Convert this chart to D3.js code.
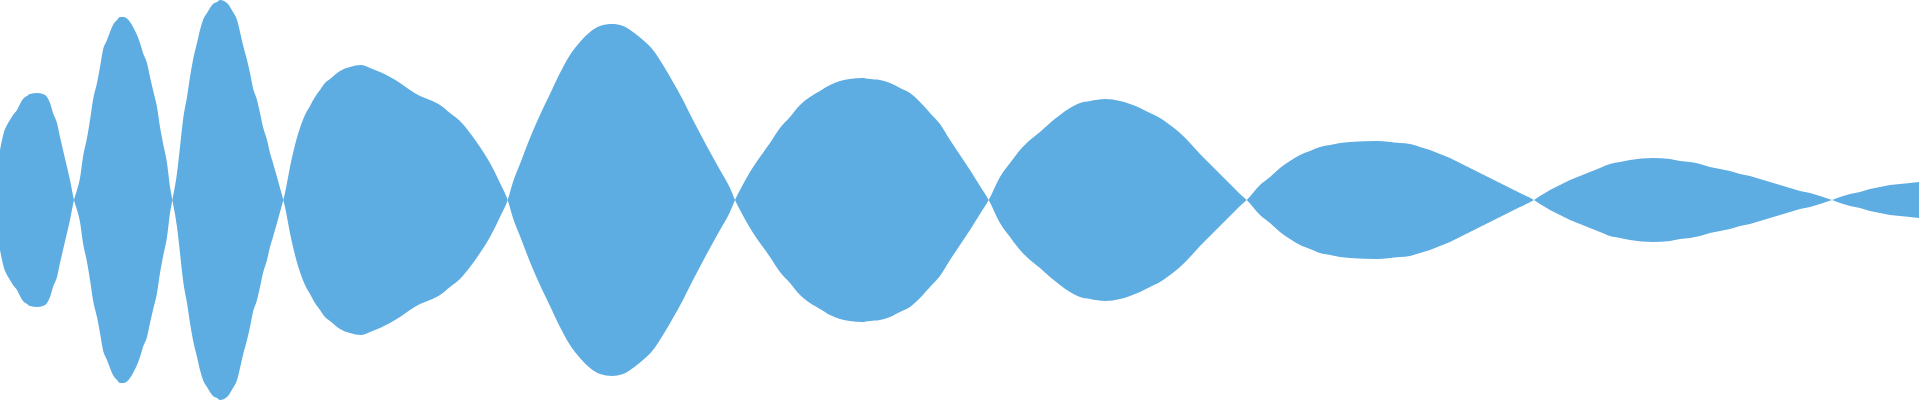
<!DOCTYPE html>
<html>
<head>
<meta charset="utf-8">
<script src="https://cdn.jsdelivr.net/npm/d3@7"></script>
<style>
  html, body { margin: 0; padding: 0; background: #ffffff; overflow: hidden; }
  svg { display: block; }
</style>
</head>
<body>
<svg id="chart" width="1920" height="400"></svg>
<script>
// Sample times (x) and signed amplitude of the waveform
const time = [
  0, 2, 4, 7, 10, 13, 17, 20, 23, 27, 30, 37, 43, 47, 50, 53, 57, 60, 63, 67, 70, 74,
  77, 80, 83, 87, 90, 93, 97, 100, 103, 107, 110, 113, 117, 120, 124, 130, 133, 137, 140, 143, 147, 150, 153, 157, 160, 163, 167, 170, 172.4,
  177, 180, 183, 187, 190, 193, 197, 200, 203, 207, 210, 213, 217, 220, 227, 230, 233, 237, 240, 243, 247, 250, 253, 257, 260, 263, 267, 270, 273, 277, 280, 283.3,
  285, 290, 295, 300, 305, 310, 315, 320, 325, 330, 340, 350, 361, 370, 380, 390, 400, 410, 420, 430, 440, 450, 460, 470, 480, 490, 500, 507.7,
  513, 520, 530, 540, 550, 560, 570, 580, 590, 600, 612, 623, 633, 643, 653, 663, 673, 683, 693, 703, 710, 720, 730, 735,
  740, 750, 760, 770, 780, 790, 800, 810, 820, 830, 840, 850, 862, 870, 880, 890, 900, 910, 920, 930, 940, 950, 960, 970, 980, 988.7,
  1000, 1010, 1020, 1030, 1040, 1050, 1060, 1070, 1080, 1090, 1105, 1120, 1130, 1140, 1150, 1160, 1170, 1180, 1190, 1200, 1210, 1220, 1230, 1240, 1246.7,
  1260, 1270, 1280, 1290, 1300, 1310, 1320, 1330, 1340, 1350, 1377, 1400, 1410, 1420, 1430, 1440, 1450, 1460, 1470, 1480, 1490, 1500, 1510, 1520, 1534,
  1540, 1550, 1560, 1570, 1580, 1590, 1600, 1610, 1620, 1630, 1653, 1670, 1680, 1690, 1700, 1710, 1720, 1730, 1740, 1750, 1760, 1770, 1780, 1790, 1800, 1810, 1820, 1832,
  1840, 1850, 1860, 1870, 1880, 1890, 1900, 1910, 1919
];
const amplitude = [
  50, 60, 68, 75, 80, 85, 90, 96, 101, 104, 106, 107, 106, 103, 97, 87, 77, 63, 50, 33, 20, 0,
  -10, -22, -43, -62, -80, -100, -117, -133, -150, -160, -168, -175, -180, -183, -183, -178, -173, -165, -157, -147, -137, -123, -110, -93, -73, -57, -37, -13, 0,
  27, 53, 80, 103, 123, 140, 157, 170, 180, 187, 192, 196, 198, 200, 197, 193, 188, 180, 168, 155, 140, 127, 112, 100, 87, 73, 60, 47, 37, 23, 12, 0,
  -7, -33, -55, -72, -85, -94, -103, -110, -117, -121, -129, -133, -135, -132, -128, -123, -117, -110, -104, -100, -95, -87, -79, -67, -53, -37, -17, 0,
  18, 36, 62, 85, 106, 127, 145, 158, 168, 174, 176, 174, 168, 160, 150, 135, 118, 100, 80, 61, 48, 30, 12, 0,
  -10, -28, -43, -57, -72, -83, -95, -103, -109, -115, -119, -121, -122, -121, -120, -117, -112, -107, -98, -87, -76, -60, -45, -30, -14, 0,
  23, 37, 50, 60, 68, 77, 85, 92, 97, 99, 101, 99, 96, 92, 87, 82, 75, 67, 57, 46, 36, 26, 16, 6, 0,
  -15, -23, -32, -39, -45, -49, -53, -55, -57, -58, -59, -57, -56, -53, -50, -46, -42, -37, -32, -27, -22, -17, -12, -7, 0,
  4, 10, 15, 20, 24, 28, 32, 36, 38, 40, 42, 41, 39, 38, 36, 33, 31, 29, 26, 24, 21, 18, 15, 12, 9, 7, 4, 0,
  -3, -6, -8, -11, -13, -15, -16, -17, -18
];
const domainX = [0, 1920];
const domainY = [-200, 200];

const width = 1920, height = 400;
const svg = d3.select("#chart");

const data = time.map((t, i) => ({ t, v: amplitude[i] }));

const x = d3.scaleLinear().domain(domainX).range([0, width]);
const y = d3.scaleLinear().domain(domainY).range([height, 0]);

const area = d3.area()
  .x(d => x(d.t))
  .y0(d => y(-d.v))
  .y1(d => y(d.v))
  .curve(d3.curveMonotoneX);

svg.append("path")
  .datum(data)
  .attr("d", area)
  .attr("fill", "#5dade2")
  .attr("fill-rule", "nonzero");
</script>
</body>
</html>
